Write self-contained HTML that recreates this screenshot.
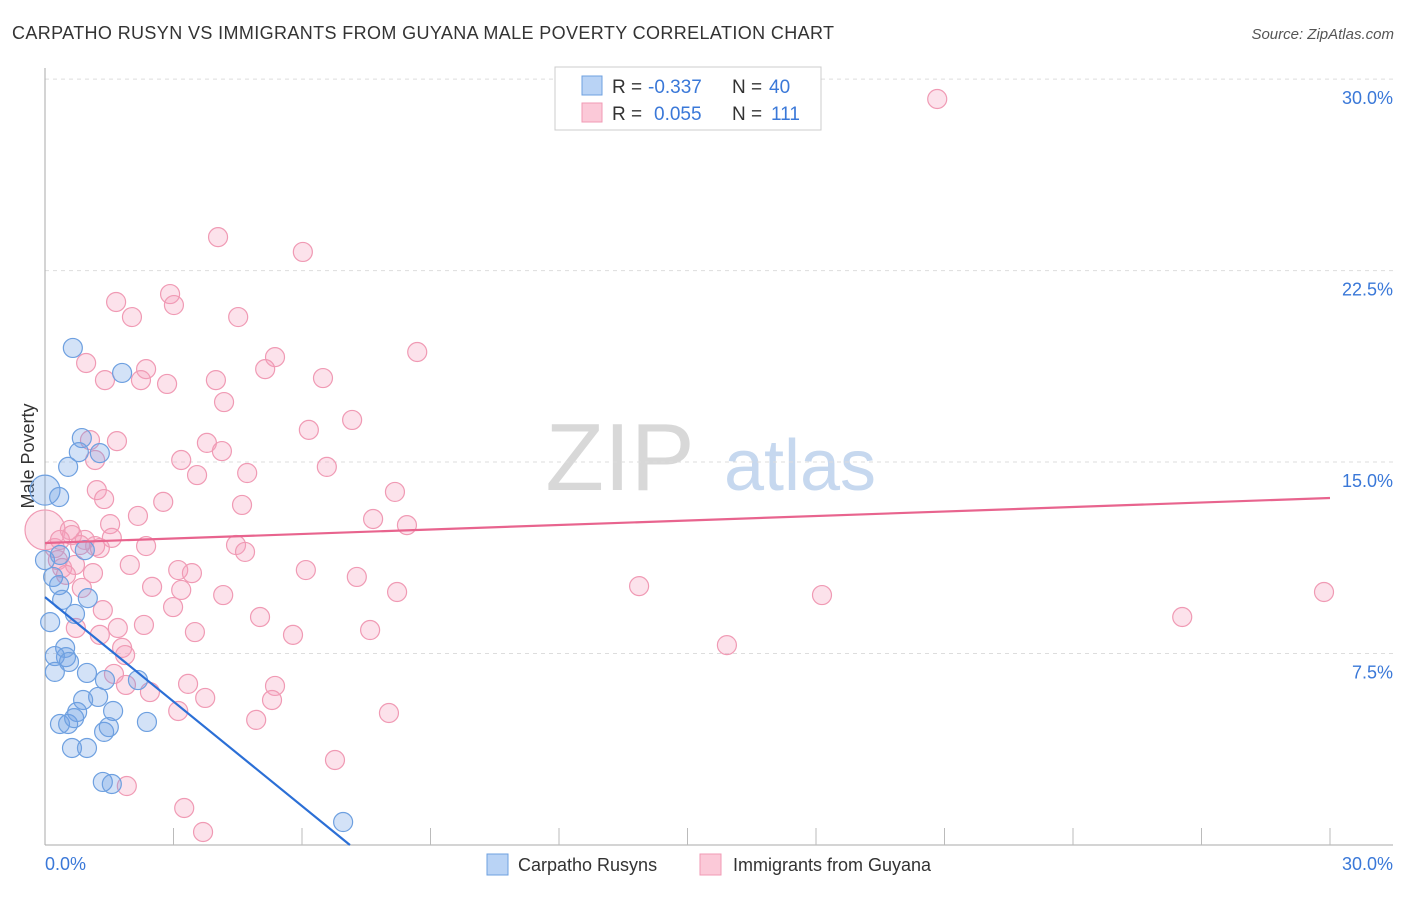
<!DOCTYPE html>
<html><head><meta charset="utf-8"><style>
body{margin:0;background:#fff;font-family:"Liberation Sans",sans-serif}
svg text{font-family:"Liberation Sans",sans-serif}
</style></head><body>
<svg id="c" width="1406" height="892">
<text x="12" y="39" font-size="18" fill="#333" textLength="822">CARPATHO RUSYN VS IMMIGRANTS FROM GUYANA MALE POVERTY CORRELATION CHART</text>
<text x="1394" y="39" font-size="15" fill="#555" font-style="italic" text-anchor="end">Source: ZipAtlas.com</text>
<text x="620" y="490" font-size="96" fill="#d8d8d8" text-anchor="middle" font-family="Liberation Serif">ZIP</text>
<text x="800" y="490" font-size="72" fill="#c6d8ef" text-anchor="middle">atlas</text>
<text transform="translate(34,456) rotate(-90)" font-size="18" fill="#333" text-anchor="middle">Male Poverty</text>
<g id="grid"></g><g id="pts"></g><g id="lines"></g>
<rect x="555" y="67" width="266" height="63" fill="#fff" stroke="#ccc"/>
<rect x="582" y="76" width="20" height="19" fill="#b9d3f5" stroke="#6ea0e0"/>
<rect x="582" y="103" width="20" height="19" fill="#fbc9d8" stroke="#f09ab4"/>
<g font-size="19">
<text x="612" y="93" fill="#333">R =</text>
<text x="648" y="93" fill="#3a78d8">-0.337</text>
<text x="732" y="93" fill="#333">N =</text>
<text x="769" y="93" fill="#3a78d8">40</text>
<text x="612" y="120" fill="#333">R =</text>
<text x="654" y="120" fill="#3a78d8">0.055</text>
<text x="732" y="120" fill="#333">N =</text>
<text x="771" y="120" fill="#3a78d8">111</text>
</g>
<rect x="487" y="854" width="21" height="21" fill="#b9d3f5" stroke="#6ea0e0"/>
<text x="518" y="871" font-size="18" fill="#333">Carpatho Rusyns</text>
<rect x="700" y="854" width="21" height="21" fill="#fbc9d8" stroke="#f09ab4"/>
<text x="733" y="871" font-size="18" fill="#333">Immigrants from Guyana</text>
</svg>
<script>
const yTicks=[7.5,15,22.5,30];
const yTickLabels=["7.5%","15.0%","22.5%","30.0%"];
const xEndLabels=["0.0%","30.0%"];
const blueX=[0.65,1.8,0.86,0.79,1.28,0.54,0,0.33,0,0.19,0.33,1.0,0.4,0.12,0.7,0.47,0.49,0.23,0.23,0.56,0.98,1.4,2.17,1.24,0.89,0.75,1.59,0.35,0.54,0.68,1.38,1.49,2.38,0.63,0.98,1.35,1.56,6.96,0.35,0.93];
const blueY=[19.47,18.49,15.94,15.39,15.35,14.81,13.9,13.63,11.16,10.5,10.18,9.67,9.6,8.73,9.05,7.72,7.36,7.4,6.78,7.17,6.74,6.46,6.46,5.8,5.68,5.21,5.25,4.74,4.74,4.97,4.43,4.62,4.82,3.8,3.8,2.47,2.39,0.9,11.36,11.55];
const pinkX=[20.83,4.04,6.02,1.66,2.92,3.01,2.03,4.51,0.96,8.69,5.37,5.14,2.36,1.4,2.24,2.85,3.99,6.49,4.18,7.17,6.16,1.05,1.68,3.78,4.13,1.17,3.18,6.58,4.72,3.55,1.21,1.38,8.17,2.76,4.6,7.66,8.45,1.52,2.17,0,0.58,0.63,0.93,1.17,0.23,2.36,4.46,4.67,0.3,0.4,1.98,0.7,1.12,6.09,7.28,3.11,3.43,2.5,3.18,13.87,18.14,8.22,4.16,0.86,1.35,2.99,5.02,5.79,7.59,3.5,1.28,2.31,1.7,0.72,1.8,1.87,1.61,15.92,26.55,29.86,3.34,3.74,5.37,5.3,2.45,1.89,4.93,3.11,8.03,6.77,1.91,3.25,3.69,1.56,0.35,0.82,1.28,0.49];
const pinkY=[29.22,23.81,23.23,21.27,21.58,21.15,20.68,20.68,18.88,19.31,19.11,18.64,18.64,18.21,18.21,18.06,18.21,18.29,17.35,16.65,16.26,15.86,15.82,15.75,15.43,15.08,15.08,14.81,14.57,14.49,13.9,13.55,13.83,13.44,13.32,12.77,12.53,12.57,12.89,12.34,12.34,12.14,11.95,11.71,11.63,11.71,11.75,11.48,11.16,10.85,10.97,10.97,10.65,10.77,10.5,10.77,10.65,10.11,9.99,10.14,9.79,9.91,9.79,10.07,9.2,9.32,8.93,8.23,8.42,8.34,8.23,8.62,8.5,8.5,7.72,7.44,6.7,7.83,8.93,9.91,6.31,5.76,6.23,5.68,5.99,6.27,4.9,5.25,5.17,3.33,2.31,1.45,0.51,12.03,11.95,11.75,11.63,10.58];
const blueTrend=[9.71,-1.364];
const pinkTrend=[11.83,0.0587];
const X0=45,X1=1330,Y0=845,PXY=25.53;
const sx=v=>X0+(X1-X0)*v/30, sy=v=>Y0-v*PXY;
const NS="http://www.w3.org/2000/svg";
function mk(t,a,p){const e=document.createElementNS(NS,t);for(const k in a)e.setAttribute(k,a[k]);p.appendChild(e);return e;}
const g=document.getElementById('grid');
yTicks.forEach((t,i)=>{
 const l=mk('line',{x1:45,x2:1393,y1:sy(t),y2:sy(t),stroke:'#ddd','stroke-dasharray':'4,4'},g);
 
 
 const tx=mk('text',{x:1393,y:sy(t)+25,'font-size':18,fill:'#3a78d8','text-anchor':'end'},g);
 tx.textContent=yTickLabels[i];
 
 
});
const ax=mk('line',{x1:45,x2:45,y1:68,y2:845,stroke:'#aaa'},g);


const bx=mk('line',{x1:45,x2:1393,y1:845,y2:845,stroke:'#aaa'},g);


for(let i=1;i<=10;i++){
 const t=mk('line',{x1:sx(i*3),x2:sx(i*3),y1:828,y2:845,stroke:'#bbb'},g);
 
 
}
[[45,'start',0],[1393,'end',1]].forEach(([x,a,i])=>{
 const t=mk('text',{x:x,y:870,'font-size':18,fill:'#3a78d8','text-anchor':a},g);
 t.textContent=xEndLabels[i];
 
 
});
const p=document.getElementById('pts');
function dots(X,Y,fill,stroke,name,big){
 X.forEach((x,i)=>{
  const r=(x===0&&big.includes(i))?(name==='pink-point'?20:15):9.5;
  const c=mk('circle',{cx:sx(x),cy:sy(Y[i]),r:r,fill:fill,stroke:stroke,'stroke-width':1.2},p);
  
  
 });
}
dots(pinkX,pinkY,'rgba(244,160,188,0.3)','#f09ab4','pink-point',[39]);
dots(blueX,blueY,'rgba(110,160,230,0.3)','#6ea0e0','blue-point',[6]);
const L=document.getElementById('lines');
const bl=mk('line',{x1:sx(0),y1:sy(blueTrend[0]),x2:sx(-blueTrend[0]/blueTrend[1]),y2:sy(0),stroke:'#2b6fd6','stroke-width':2.2},L);


const pl=mk('line',{x1:sx(0),y1:sy(pinkTrend[0]),x2:sx(30),y2:sy(pinkTrend[0]+30*pinkTrend[1]),stroke:'#e8648e','stroke-width':2.2},L);


</script>
</body></html>
